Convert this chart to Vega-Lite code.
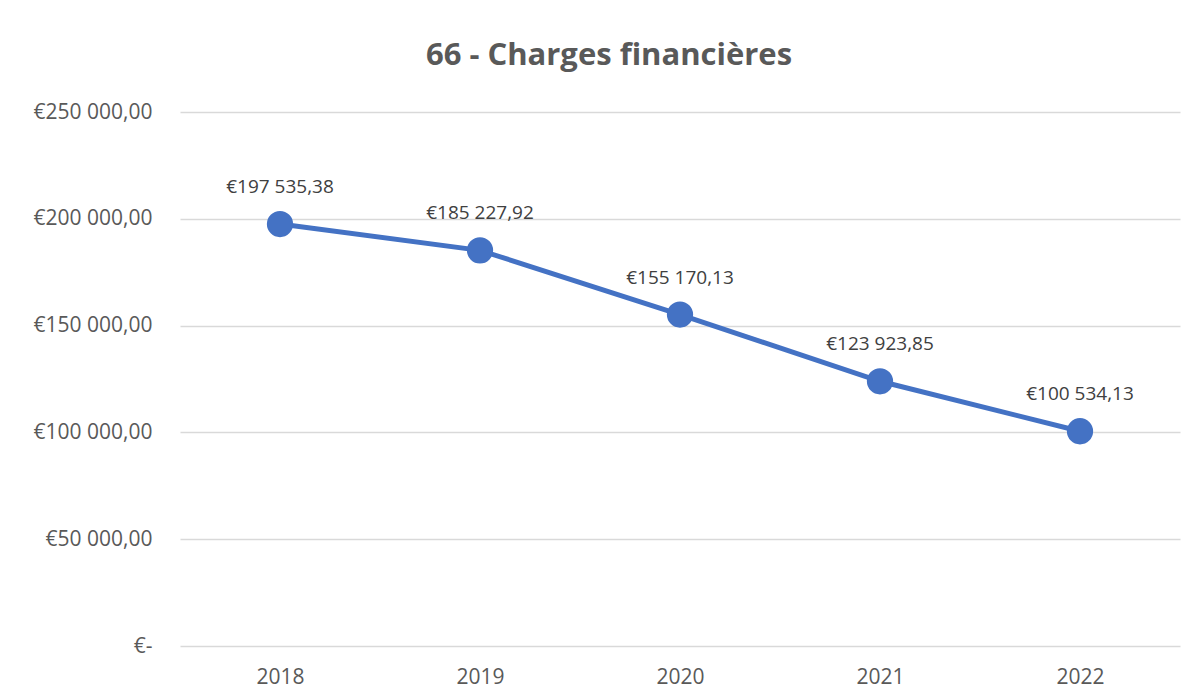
{
  "$schema": "https://vega.github.io/schema/vega-lite/v6.json",
  "width": 1000,
  "height": 534,
  "autosize": {"type": "none"},
  "padding": {"left": 180, "top": 112, "right": 17, "bottom": 54},
  "background": "white",
  "config": {
    "locale": {"number": {"decimal": ",", "thousands": " ", "grouping": [3], "currency": ["€", ""]}},
    "view": {"stroke": null},
    "font": "Open Sans"
  },
  "title": {
    "text": "66 - Charges financières",
    "anchor": "middle",
    "dx": -71,
    "offset": 29,
    "fontSize": 31,
    "fontWeight": "bold",
    "color": "#595959",
    "font": "Open Sans"
  },
  "data": {
    "values": [
      {"year": "2018", "value": 197535.38},
      {"year": "2019", "value": 185227.92},
      {"year": "2020", "value": 155170.13},
      {"year": "2021", "value": 123923.85},
      {"year": "2022", "value": 100534.13}
    ]
  },
  "encoding": {
    "x": {
      "field": "year",
      "type": "ordinal",
      "scale": {"paddingInner": 0, "paddingOuter": 0},
      "axis": {
        "title": null,
        "labelAngle": 0,
        "labelFontSize": 21,
        "labelColor": "#595959",
        "labelPadding": 20,
        "ticks": false,
        "domain": false,
        "grid": false
      }
    },
    "y": {
      "field": "value",
      "type": "quantitative",
      "scale": {"domain": [0, 250000]},
      "axis": {
        "title": null,
        "values": [0, 50000, 100000, 150000, 200000, 250000],
        "format": "$,.2f",
        "labelExpr": "datum.value == 0 ? '€-' : datum.label",
        "labelFontSize": 21,
        "labelColor": "#595959",
        "labelPadding": 28,
        "ticks": false,
        "domain": false,
        "gridColor": "#D9D9D9",
        "gridWidth": 1.5
      }
    }
  },
  "layer": [
    {"mark": {"type": "line", "color": "#4472C4", "strokeWidth": 5}},
    {"mark": {"type": "circle", "color": "#4472C4", "opacity": 1, "size": 690}},
    {
      "mark": {"type": "text", "dy": -37, "fontSize": 19, "color": "#404040", "baseline": "middle"},
      "encoding": {"text": {"field": "value", "type": "quantitative", "format": "$,.2f"}}
    }
  ]
}
